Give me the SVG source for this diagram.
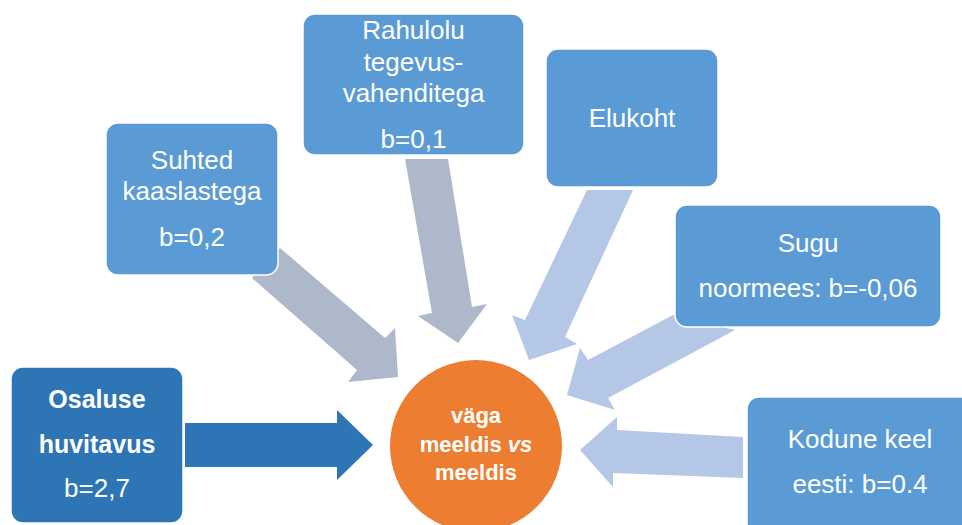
<svg xmlns="http://www.w3.org/2000/svg" width="962" height="525" viewBox="0 0 962 525">
<style>
.box{fill:#5B9BD5;stroke:#FFFFFF;stroke-width:1.5}
.dark{fill:#2E75B6;stroke:#FFFFFF;stroke-width:1.5}
.t{font-family:"Liberation Sans",Arial,sans-serif;font-size:26px;fill:#FFFFFF;text-anchor:middle}
.b{font-weight:bold;font-size:25px}
.c{font-family:"Liberation Sans",Arial,sans-serif;font-size:22px;font-weight:bold;fill:#FFFFFF;text-anchor:middle}
.gray{fill:#ADB9CA}
.light{fill:#B4C7E7}
</style>
<rect width="962" height="525" fill="#FFFFFF"/>
<g id="connectors">
<polygon class="dark" style="stroke:none" points="185,423 337,423 337,410 373,445 337,480 337,467 185,467"/>
<polygon class="gray" points="280,248 385,338 395,328 398,377 348,382 357,370 252,278"/>
<polygon class="gray" points="405,159 448,159 472,307 487,304 458,343 418,316 432,313"/>
<polygon class="light" points="587,190 633,190 565,337 577,344 529,360 512,315 525,320"/>
<polygon class="light" points="673,315 735,330 608,398 615,410 567,395 580,348 588,360"/>
<polygon class="light" points="743,437 617,430 617,417 580,450 613,487 613,473 743,478"/>
</g>
<g id="osaluse">
<rect class="dark" x="11" y="367" width="172" height="156" rx="12"/>
<text class="t b" x="97" y="408">Osaluse</text>
<text class="t b" x="97" y="453">huvitavus</text>
<text class="t" x="97" y="497">b=2,7</text>
</g>
<g id="suhted">
<rect class="box" x="106" y="123" width="172" height="152" rx="12"/>
<text class="t" x="192" y="169">Suhted</text>
<text class="t" x="192" y="200">kaaslastega</text>
<text class="t" x="192" y="246">b=0,2</text>
</g>
<g id="rahulolu">
<rect class="box" x="303" y="14" width="221" height="141" rx="12"/>
<text class="t" x="413.5" y="39">Rahulolu</text>
<text class="t" x="413.5" y="71">tegevus-</text>
<text class="t" x="413.5" y="102">vahenditega</text>
<text class="t" x="413.5" y="148">b=0,1</text>
</g>
<g id="elukoht">
<rect class="box" x="546" y="49" width="172" height="138" rx="12"/>
<text class="t" x="632" y="127">Elukoht</text>
</g>
<g id="sugu">
<rect class="box" x="675" y="205" width="266" height="122" rx="12"/>
<text class="t" x="808" y="252">Sugu</text>
<text class="t" x="808" y="297">noormees: b=-0,06</text>
</g>
<g id="kodune">
<rect class="box" x="747" y="397" width="226" height="140" rx="12"/>
<text class="t" x="860" y="448">Kodune keel</text>
<text class="t" x="860" y="493">eesti: b=0.4</text>
</g>
<g id="center">
<circle cx="476" cy="446" r="86" fill="#ED7D31"/>
<text class="c" x="476" y="423">väga</text>
<text class="c" x="476" y="452">meeldis <tspan font-style="italic">vs</tspan></text>
<text class="c" x="476" y="480">meeldis</text>
</g>
</svg>
